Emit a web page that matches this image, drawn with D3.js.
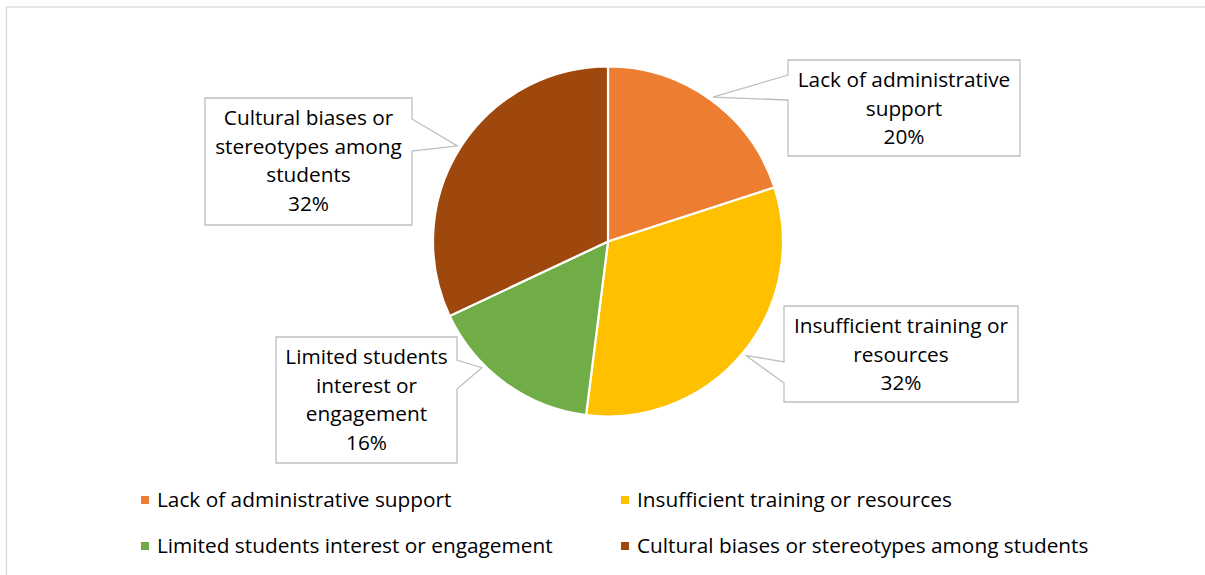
<!DOCTYPE html>
<html>
<head>
<meta charset="utf-8">
<script src="https://cdn.jsdelivr.net/npm/d3@7"></script>
<style>
  body { margin: 0; background: #fff; }
  svg { display: block; font-family: "Open Sans", Lato, sans-serif; }
</style>
</head>
<body>
<div id="chartbox"></div>
<script>
// data
var categories = ['Lack of administrative support', 'Insufficient training or resources',
                  'Limited students interest or engagement', 'Cultural biases or stereotypes among students'];
var values = [20, 32, 16, 32];
var colors = ['#ED7D31', '#FFC000', '#70AD47', '#9E480E'];
var labelLines = [
  ['Lack of administrative', 'support'],
  ['Insufficient training or', 'resources'],
  ['Limited students', 'interest or', 'engagement'],
  ['Cultural biases or', 'stereotypes among', 'students']
];

const width = 1205, height = 575;
var cx = 608, cy = 241.5, radius = 175;
var fontSize = 20.8;

// callout boxes: rect + side of wedge + wedge base (y on that side) + tip angle tweak (deg)
var callouts = [
  {x: 788, y: 60,  w: 232, h: 96,  side: 'left',  b0: 75,  b1: 100, tweak: 0},
  {x: 784, y: 306, w: 234, h: 96,  side: 'left',  b0: 362, b1: 383, tweak: 0},
  {x: 276, y: 337, w: 181, h: 126, side: 'right', b0: 360, b1: 389, tweak: 9},
  {x: 205, y: 98,  w: 207, h: 127, side: 'right', b0: 119, b1: 151, tweak: 0}
];

var svg = d3.select('#chartbox').append('svg').attr('width', width).attr('height', height);

// chart area border
svg.append('rect').attr('x', 6.5).attr('y', 7).attr('width', width + 10).attr('height', height + 10)
  .attr('fill', 'none').attr('stroke', '#d9d9d9').attr('stroke-width', 1.3);

var pie = d3.pie().sort(null).value(function(d) { return d; });
var arcs = pie(values);
var arc = d3.arc().innerRadius(0).outerRadius(radius);

var g = svg.append('g').attr('transform', 'translate(' + cx + ',' + cy + ')');
g.selectAll('path').data(arcs).enter().append('path')
  .attr('d', arc)
  .attr('fill', function(d, i) { return colors[i]; })
  .attr('stroke', '#fff').attr('stroke-width', 2.2).attr('stroke-linejoin', 'round');

// callouts
var total = d3.sum(values);
arcs.forEach(function(a, i) {
  var c = callouts[i];
  var ang = (a.startAngle + a.endAngle) / 2 + c.tweak * Math.PI / 180;
  var tx = cx + radius * 1.02 * Math.sin(ang), ty = cy - radius * 1.02 * Math.cos(ang);
  var x0 = c.x, x1 = c.x + c.w, y0 = c.y, y1 = c.y + c.h;
  var p;
  if (c.side == 'left') {
    p = [[x0, y0], [x1, y0], [x1, y1], [x0, y1], [x0, c.b1], [tx, ty], [x0, c.b0]];
  } else {
    p = [[x0, y0], [x1, y0], [x1, c.b0], [tx, ty], [x1, c.b1], [x1, y1], [x0, y1]];
  }
  svg.append('path').attr('d', 'M' + p.join('L') + 'Z')
    .attr('fill', '#fff').attr('stroke', '#bfbfbf').attr('stroke-width', 1.3);

  var lines = labelLines[i].concat([Math.round(values[i] / total * 100) + '%']);
  var t = svg.append('text').attr('text-anchor', 'middle').attr('font-size', fontSize).attr('fill', '#000');
  lines.forEach(function(s, j) {
    t.append('tspan').attr('x', x0 + c.w / 2).attr('y', y0 + 27 + j * 28.5).text(s);
  });
});

// legend
var legX = [141, 621], legY = [500, 546];
categories.forEach(function(name, i) {
  var lx = legX[i % 2], ly = legY[Math.floor(i / 2)];
  svg.append('rect').attr('x', lx).attr('y', ly - 4).attr('width', 8).attr('height', 8).attr('fill', colors[i]);
  svg.append('text').attr('x', lx + 16).attr('y', ly + 7).attr('font-size', fontSize).attr('fill', '#000').text(name);
});
</script>
</body>
</html>
